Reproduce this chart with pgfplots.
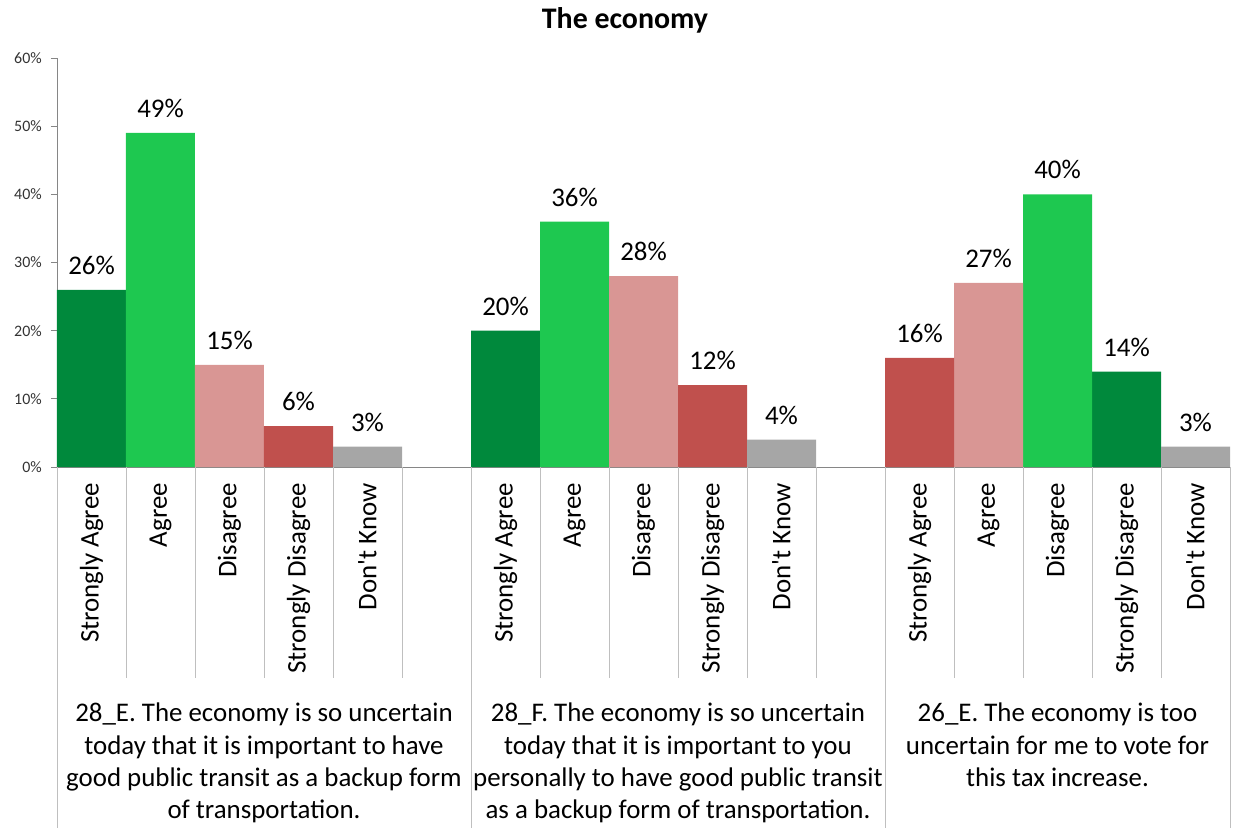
\documentclass[border=0pt]{standalone}
\usepackage{fontspec}
\setmainfont{Carlito}
\usepackage{pgfplots}
\pgfplotsset{compat=1.18}
\definecolor{dgreen}{HTML}{00893C}
\definecolor{lgreen}{HTML}{1EC850}
\definecolor{cpink}{HTML}{D99694}
\definecolor{cred}{HTML}{C0504D}
\definecolor{cgray}{HTML}{A6A6A6}
\definecolor{axgray}{HTML}{868686}
\definecolor{sepgray}{HTML}{BFBFBF}
\begin{document}
\begin{tikzpicture}
\path[use as bounding box] (-57bp,-368bp) rectangle (1181bp,467bp);
\begin{axis}[
  at={(0,0)}, anchor=south west,
  scale only axis, width=1173bp, height=409bp,
  xmin=-0.5, xmax=16.5, ymin=0, ymax=60,
  ybar, bar width=1,
  axis x line=bottom, axis y line=left,
  axis line style={-, axgray, line width=0.8bp},
  clip=false,
  ytick={0,10,20,30,40,50,60},
  yticklabels={0\%,10\%,20\%,30\%,40\%,50\%,60\%},
  yticklabel style={font=\fontsize{16}{18}\selectfont, text=black!80, inner sep=0pt, xshift=-9bp},
  tick align=outside, major tick length=6bp,
  tick style={axgray, line width=0.8bp},
  xtick={0,1,2,3,4,6,7,8,9,10,12,13,14,15,16},
  xticklabels={Strongly Agree,Agree,Disagree,Strongly Disagree,Don\textquotesingle t Know,
               Strongly Agree,Agree,Disagree,Strongly Disagree,Don\textquotesingle t Know,
               Strongly Agree,Agree,Disagree,Strongly Disagree,Don\textquotesingle t Know},
  x tick style={draw=none},
  xticklabel style={rotate=90, anchor=east, font=\fontsize{27}{30}\selectfont, inner sep=0pt, xshift=-10bp},
  /pgf/number format/assume math mode=true,
  nodes near coords={\pgfmathprintnumber{\pgfplotspointmeta}\%},
  every node near coord/.append style={font=\fontsize{27}{30}\selectfont, text=black, inner sep=0pt, yshift=15bp},
]
\addplot[fill=dgreen, draw=none, bar shift=0pt] coordinates {(0,26) (6,20) (15,14)};
\addplot[fill=lgreen, draw=none, bar shift=0pt] coordinates {(1,49) (7,36) (14,40)};
\addplot[fill=cpink, draw=none, bar shift=0pt] coordinates {(2,15) (8,28) (13,27)};
\addplot[fill=cred, draw=none, bar shift=0pt] coordinates {(3,6) (9,12) (12,16)};
\addplot[fill=cgray, draw=none, bar shift=0pt] coordinates {(4,3) (10,4) (16,3)};
\foreach \x in {0.5,1.5,2.5,3.5,4.5,6.5,7.5,8.5,9.5,10.5,12.5,13.5,14.5,15.5} {
  \edef\temp{\noexpand\draw[sepgray, line width=0.8bp] (axis cs:\x,0) -- ++(0pt,-211bp);}
  \temp
}
\foreach \x in {-0.5,5.5,11.5,16.5} {
  \edef\temp{\noexpand\draw[sepgray, line width=0.8bp] (axis cs:\x,0) -- ++(0pt,-361bp);}
  \temp
}
\node[anchor=north, align=center, inner sep=0pt, font=\fontsize{27}{32.3}\selectfont]
  at (axis cs:2.5,0) [yshift=-236bp]
  {28\_E. The economy is so uncertain\\today that it is important to have\\good public transit as a backup form\\of transportation.};
\node[anchor=north, align=center, inner sep=0pt, font=\fontsize{27}{32.3}\selectfont]
  at (axis cs:8.5,0) [yshift=-236bp]
  {28\_F. The economy is so uncertain\\today that it is important to you\\personally to have good public transit\\as a backup form of transportation.};
\node[anchor=north, align=center, inner sep=0pt, font=\fontsize{27}{32.3}\selectfont]
  at (axis cs:14,0) [yshift=-236bp]
  {26\_E. The economy is too\\uncertain for me to vote for\\this tax increase.};
\end{axis}
\node[font=\bfseries\fontsize{30}{34}\selectfont] at (568bp,447bp) {The economy};
\end{tikzpicture}
\end{document}
